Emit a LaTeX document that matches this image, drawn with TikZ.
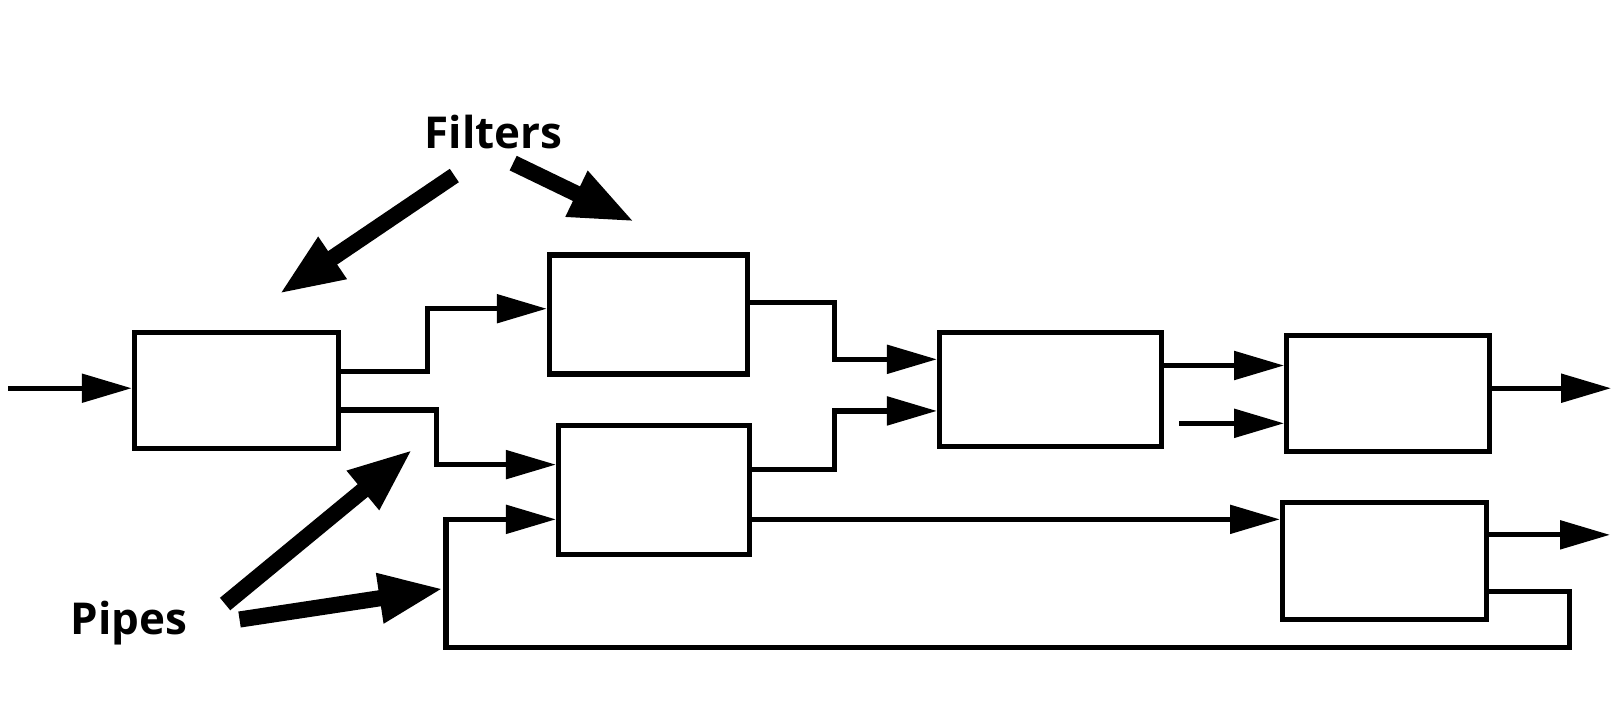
\documentclass[tikz,border=0pt]{standalone}
\usepackage{fontspec}
\setsansfont{Open Sans}
\usetikzlibrary{arrows.meta}

\tikzset{
	filterbox/.style={draw, line width=1.5pt, inner sep=0pt},
	pipe/.style={line width=1.5pt, -{Triangle[length=5mm,width=2.8mm]}},
	pointer/.style={line width=4.6pt, -{Triangle[length=6.5mm,width=4.6mm]}},
	tag/.style={font=\sffamily\bfseries\fontsize{12.5}{14}\selectfont}
}

\begin{document}
\begin{tikzpicture}[x=0.10325mm, y=-0.10325mm]
		\useasboundingbox (0,0) rectangle (1568,703);

		% filters
		\node[filterbox, minimum width=20.4mm, minimum height=11.6mm] (a) at (229,378) {};
		\node[filterbox, minimum width=19.8mm, minimum height=11.9mm] (b) at (628,304.5) {};
		\node[filterbox, minimum width=19.1mm, minimum height=12.9mm] (c) at (633.5,474.5) {};
		\node[filterbox, minimum width=22.2mm, minimum height=11.4mm] (d) at (1017.5,377) {};
		\node[filterbox, minimum width=20.3mm, minimum height=11.6mm] (e) at (1344.5,381) {};
		\node[filterbox, minimum width=20.4mm, minimum height=11.7mm] (f) at (1341,543.5) {};

		% pipes
		\coordinate (in) at (8,376);
		\draw[pipe] (in) -- (in -| a.west);
		\draw[pipe] (a.east |- 0,360) -| (414,299) -- (b.west |- 0,299);
		\draw[pipe] (a.east |- 0,397) -| (423,450) -- (c.west |- 0,450);
		\draw[pipe] (b.east |- 0,293) -| (808,348) -- (d.west |- 0,348);
		\draw[pipe] (c.east |- 0,455) -| (808,398) -- (d.west |- 0,398);
		\draw[pipe] (d.east |- 0,354) -- (e.west |- 0,354);
		\draw[pipe, shorten <=1.5mm] (d.east |- 0,410) -- (e.west |- 0,410);
		\draw[pipe] (e.east |- 0,376) -- ++(115,0);
		\draw[pipe] (c.east |- 0,503) -- (f.west |- 0,503);
		\draw[pipe] (f.east |- 0,518) -- ++(117,0);
		\draw[pipe] (f.east |- 0,573) -| (1520,627) -| (432,503) -- (c.west |- 0,503);

		% labels
		\node[tag] (filters) at (478,128) {Filters};
		\node[tag] (pipes) at (125,603) {Pipes};
		\coordinate (f1s) at (440,170);
		\coordinate (f1e) at (270,285);
		\coordinate (f2s) at (497,158);
		\coordinate (f2e) at (615,215);
		\coordinate (p1s) at (218,585);
		\coordinate (p1e) at (400,435);
		\coordinate (p2s) at (232,600);
		\coordinate (p2e) at (430,570);
		\draw[pointer] (f1s) -- (f1e);
		\draw[pointer] (f2s) -- (f2e);
		\draw[pointer] (p1s) -- (p1e);
		\draw[pointer] (p2s) -- (p2e);

	\end{tikzpicture}
\end{document}
